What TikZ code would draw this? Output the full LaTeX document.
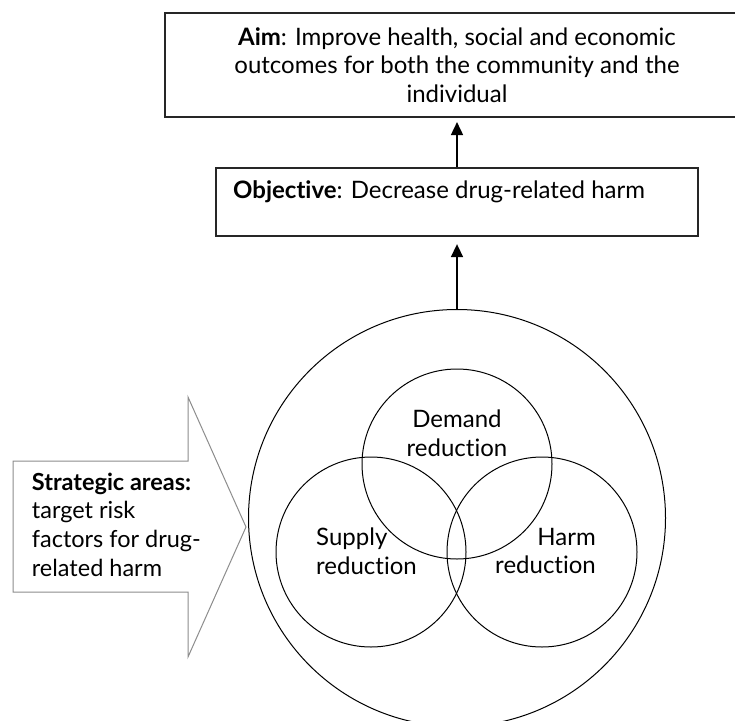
\documentclass[tikz,border=0pt]{standalone}
\usepackage{fontspec}
\setmainfont{Lato}[Ligatures={NoCommon}]
\usetikzlibrary{arrows.meta,shapes.geometric}
\tikzset{
  boxstyle/.style={draw=black!85, line width=1.3pt, inner sep=0pt},
  ringstyle/.style={draw=black, line width=1pt, circle, inner sep=0pt},
  bodytext/.style={inner sep=0pt, font=\fontsize{24}{28.5}\selectfont},
  sidetext/.style={inner sep=0pt, font=\fontsize{23.5}{28.7}\selectfont, align=left},
  uparrow/.style={line width=1.6pt, -{Triangle[width=12pt,length=13pt]}},
  bigarrow/.style={draw=black!45, line width=1pt, line join=miter}
}
\begin{document}
\begin{tikzpicture}[x=1pt,y=-1pt]
\useasboundingbox (0,0) rectangle (735,720);
\clip (0,0) rectangle (735,720);
% Aim box
\node[boxstyle, minimum width=584pt, minimum height=104pt, bodytext, align=center] (aim) at (457,65)
  {\textbf{Aim}: Improve health, social and economic\\outcomes for both the community and the\\individual};
% Objective box
\node[boxstyle, minimum width=482pt, minimum height=68pt] (obj) at (457,202) {};
\node[bodytext, anchor=west] (objtext) at (233,192) {\textbf{Objective}: Decrease drug-related harm};
% Circles
\node[ringstyle, minimum size=417pt] (outer) at (457,518) {};
\node[ringstyle, minimum size=190pt] (demand) at (457,464) {};
\node[ringstyle, minimum size=190pt] (supply) at (371,552) {};
\node[ringstyle, minimum size=190pt] (harm) at (542,552) {};
\node[bodytext, align=center] (demandtext) at (457,433) {Demand\\reduction};
\node[bodytext, align=left, anchor=west] (supplytext) at (316,551) {Supply\\reduction};
\node[bodytext, align=right, anchor=east] (harmtext) at (596,551) {Harm\\reduction};
% Arrows
\draw[uparrow, shorten >=4.4pt] (obj.north) -- (aim.south);
\draw[uparrow, shorten >=7.5pt] (outer.north) -- (obj.south);
% Strategic areas arrow
\draw[bigarrow] (13,461) -- (188,461) -- (188,397) -- (246,527) -- (188,657) -- (188,592) -- (13,592) -- cycle;
\node[sidetext, anchor=west] (strat) at (31.7,524.5)
  {\textbf{Strategic areas:}\\target risk\\factors for drug-\\related harm};
\end{tikzpicture}
\end{document}
